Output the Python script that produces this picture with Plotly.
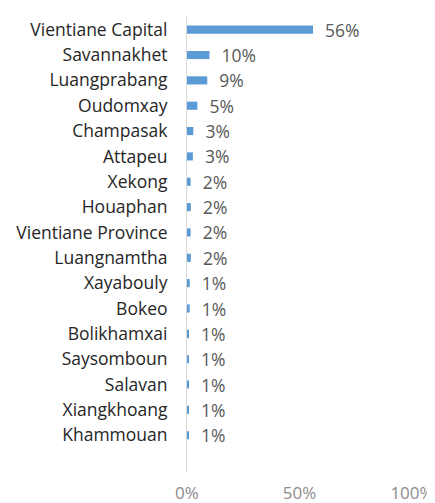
import plotly.graph_objects as go

provinces = ["Vientiane Capital", "Savannakhet", "Luangprabang", "Oudomxay", "Champasak",
             "Attapeu", "Xekong", "Houaphan", "Vientiane Province", "Luangnamtha",
             "Xayabouly", "Bokeo", "Bolikhamxai", "Saysomboun", "Salavan",
             "Xiangkhoang", "Khammouan"]
shares = [56, 10, 9, 4.6, 2.8, 2.6, 1.6, 1.7, 1.6, 1.7, 1.2, 1.2, 0.7, 0.7, 0.7, 0.7, 0.6]
labels = ["56%", "10%", "9%", "5%", "3%", "3%", "2%", "2%", "2%", "2%",
          "1%", "1%", "1%", "1%", "1%", "1%", "1%"]
x_ticks = [0, 50, 100]
x_tick_text = ["0%", "50%", "100%"]

fig = go.Figure(go.Bar(
    x=shares, y=provinces, orientation="h",
    marker=dict(color="#5b9bd5", line=dict(width=0)),
    text=["\u00a0\u00a0" + t for t in labels], textposition="outside",
    constraintext="none",
    textfont=dict(family="Open Sans", size=17.5, color="#595959"),
    cliponaxis=False,
))

# page body has an 8px default margin, so the figure is sized to fit the window
fig.update_layout(
    width=427, height=495,
    margin=dict(l=179, r=23, t=9, b=31),
    paper_bgcolor="white", plot_bgcolor="white",
    bargap=0.68, showlegend=False,
    font=dict(family="Open Sans", color="#404040"),
)
fig.update_xaxes(range=[0, 100], tickvals=x_ticks, ticktext=x_tick_text,
                 showgrid=False, zeroline=False, showline=False, automargin=False,
                 ticklabeloverflow="allow",
                 tickfont=dict(size=17, color="#8c8c8c"), ticklabelstandoff=9)
fig.update_yaxes(categoryorder="array", categoryarray=provinces,
                 range=[17.45, -0.5], showgrid=False, zeroline=False, automargin=False,
                 showline=True, linecolor="#d9d9d9", linewidth=1,
                 tickfont=dict(size=17.5, color="#262626"), ticklabelstandoff=15)

fig.write_html("out.html")
